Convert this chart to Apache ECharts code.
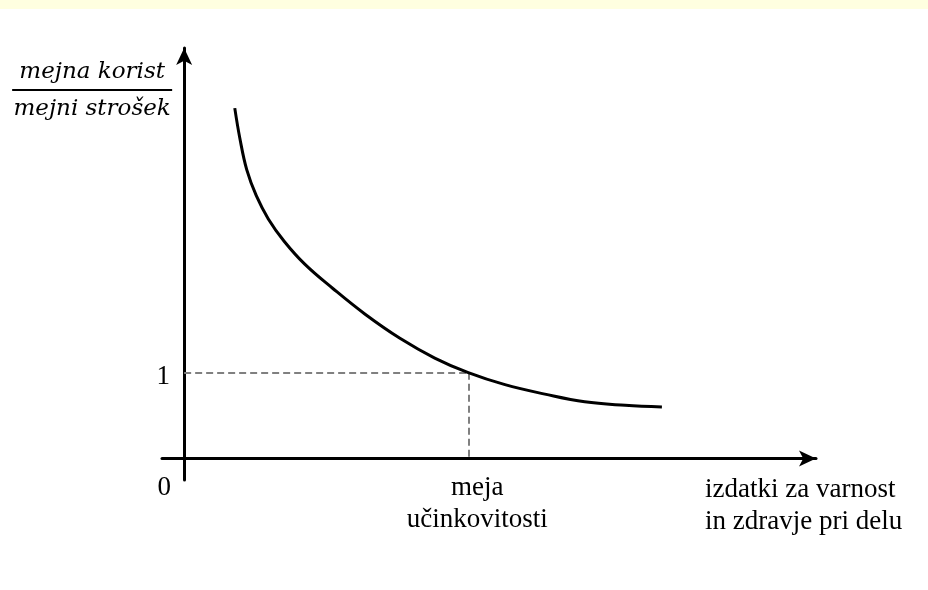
<!DOCTYPE html>
<html>
<head>
<meta charset="utf-8">
<script src="https://cdn.jsdelivr.net/npm/echarts@6/dist/echarts.min.js"></script>
<style>
  html, body { margin: 0; padding: 0; background: #ffffff; }
  #chart { width: 928px; height: 590px; }
</style>
</head>
<body>
<div id="chart"></div>
<script>
// Spending on safety and health at work (x) and marginal benefit / marginal cost ratio (y)
const spending = [0.80, 0.88, 0.99, 1.14, 1.33, 1.58, 1.91, 2.35, 2.86, 3.41, 3.96, 4.49, 5.07, 5.70, 6.33, 6.97, 7.55];
const ratio    = [4.08, 3.73, 3.36, 3.06, 2.79, 2.53, 2.26, 1.98, 1.68, 1.40, 1.17, 1.00, 0.86, 0.75, 0.66, 0.62, 0.60];
// efficiency limit: where ratio == 1
const efficiencyX = [4.49];
const efficiencyY = [1];
// tick labels
const xTickLabels = ['0', 'meja\nučinkovitosti'];
const yTickLabels = ['1'];
const xAxisTitle = 'izdatki za varnost\nin zdravje pri delu';
const yAxisTitleTop = 'mejna korist';
const yAxisTitleBottom = 'mejni strošek';

const serif = '"Liberation Serif", "Times New Roman", serif';
const chart = echarts.init(document.getElementById('chart'), null, { renderer: 'canvas' });

const curve = spending.map((x, i) => [x, ratio[i]]);

chart.setOption({
  backgroundColor: '#ffffff',
  animation: false,
  graphic: [{
    type: 'rect', left: 0, top: 0, z: -10,
    shape: { width: 928, height: 9 },
    style: { fill: '#ffffe0' }
  }],
  grid: { left: 162, right: 112, top: 48, bottom: 110, outerBoundsMode: 'none', containLabel: false },
  xAxis: {
    type: 'value', min: -0.35, max: 9.985,
    splitLine: { show: false },
    axisTick: { show: false },
    axisLine: {
      show: true, onZero: true,
      lineStyle: { color: '#000', width: 3 },
      symbol: ['none', 'arrow'], symbolSize: [12, 17]
    },
    axisLabel: {
      customValues: [0, efficiencyX[0]],
      margin: -8,
      color: '#000',
      fontFamily: serif,
      fontSize: 27,
      lineHeight: 32,
      formatter: function (v) {
        if (v === 0) return '{z|' + xTickLabels[0] + '}';
        return xTickLabels[1].split('\n').map(s => '{m|' + s + '}').join('\n');
      },
      rich: {
        z: { fontFamily: serif, fontSize: 27, lineHeight: 32, color: '#000', padding: [0, 40, 0, 0] },
        m: { fontFamily: serif, fontSize: 27, lineHeight: 32, color: '#000', padding: [0, 0, 0, 18] }
      }
    },
    name: xAxisTitle,
    nameLocation: 'end',
    nameGap: -111,
    nameTextStyle: {
      fontFamily: serif, fontSize: 27, lineHeight: 32, color: '#000',
      align: 'left', verticalAlign: 'top', padding: [15, 0, 0, 0]
    }
  },
  yAxis: {
    type: 'value', min: -0.25, max: 4.78,
    splitLine: { show: false },
    axisTick: { show: false },
    axisLine: {
      show: true, onZero: true,
      lineStyle: { color: '#000', width: 3 },
      symbol: ['none', 'arrow'], symbolSize: [12, 17]
    },
    axisLabel: {
      customValues: [1],
      margin: -8,
      color: '#000',
      formatter: function () { return '{o|' + yTickLabels[0] + '}'; },
      rich: {
        o: { fontFamily: serif, fontSize: 27, lineHeight: 30, color: '#000', padding: [8, 0, 0, 0] }
      }
    },
    name: '{a|' + yAxisTitleTop + '}\n{hr|}\n{b|' + yAxisTitleBottom + '}',
    nameLocation: 'end',
    nameGap: -11,
    nameTextStyle: {
      align: 'right', verticalAlign: 'top', padding: [0, 12, 0, 0],
      rich: {
        a: { fontFamily: '"DejaVu Serif", serif', fontStyle: 'italic', fontSize: 23, lineHeight: 26, width: 160, align: 'center', color: '#000' },
        hr: { width: 160, height: 2, lineHeight: 10, backgroundColor: '#000' },
        b: { fontFamily: '"DejaVu Serif", serif', fontStyle: 'italic', fontSize: 23, lineHeight: 28, width: 160, align: 'center', color: '#000' }
      }
    }
  },
  series: [{
    type: 'line',
    data: curve,
    smooth: 0.4,
    showSymbol: false,
    symbol: 'none',
    lineStyle: { color: '#000', width: 3 },
    z: 5,
    markLine: {
      silent: true,
      symbol: ['none', 'none'],
      label: { show: false },
      lineStyle: { type: [7, 4], color: '#808080', width: 2 },
      data: [
        [{ coord: [0, efficiencyY[0]] }, { coord: [efficiencyX[0], efficiencyY[0]] }],
        [{ coord: [efficiencyX[0], efficiencyY[0]] }, { coord: [efficiencyX[0], 0] }]
      ]
    }
  }]
});
</script>
</body>
</html>
